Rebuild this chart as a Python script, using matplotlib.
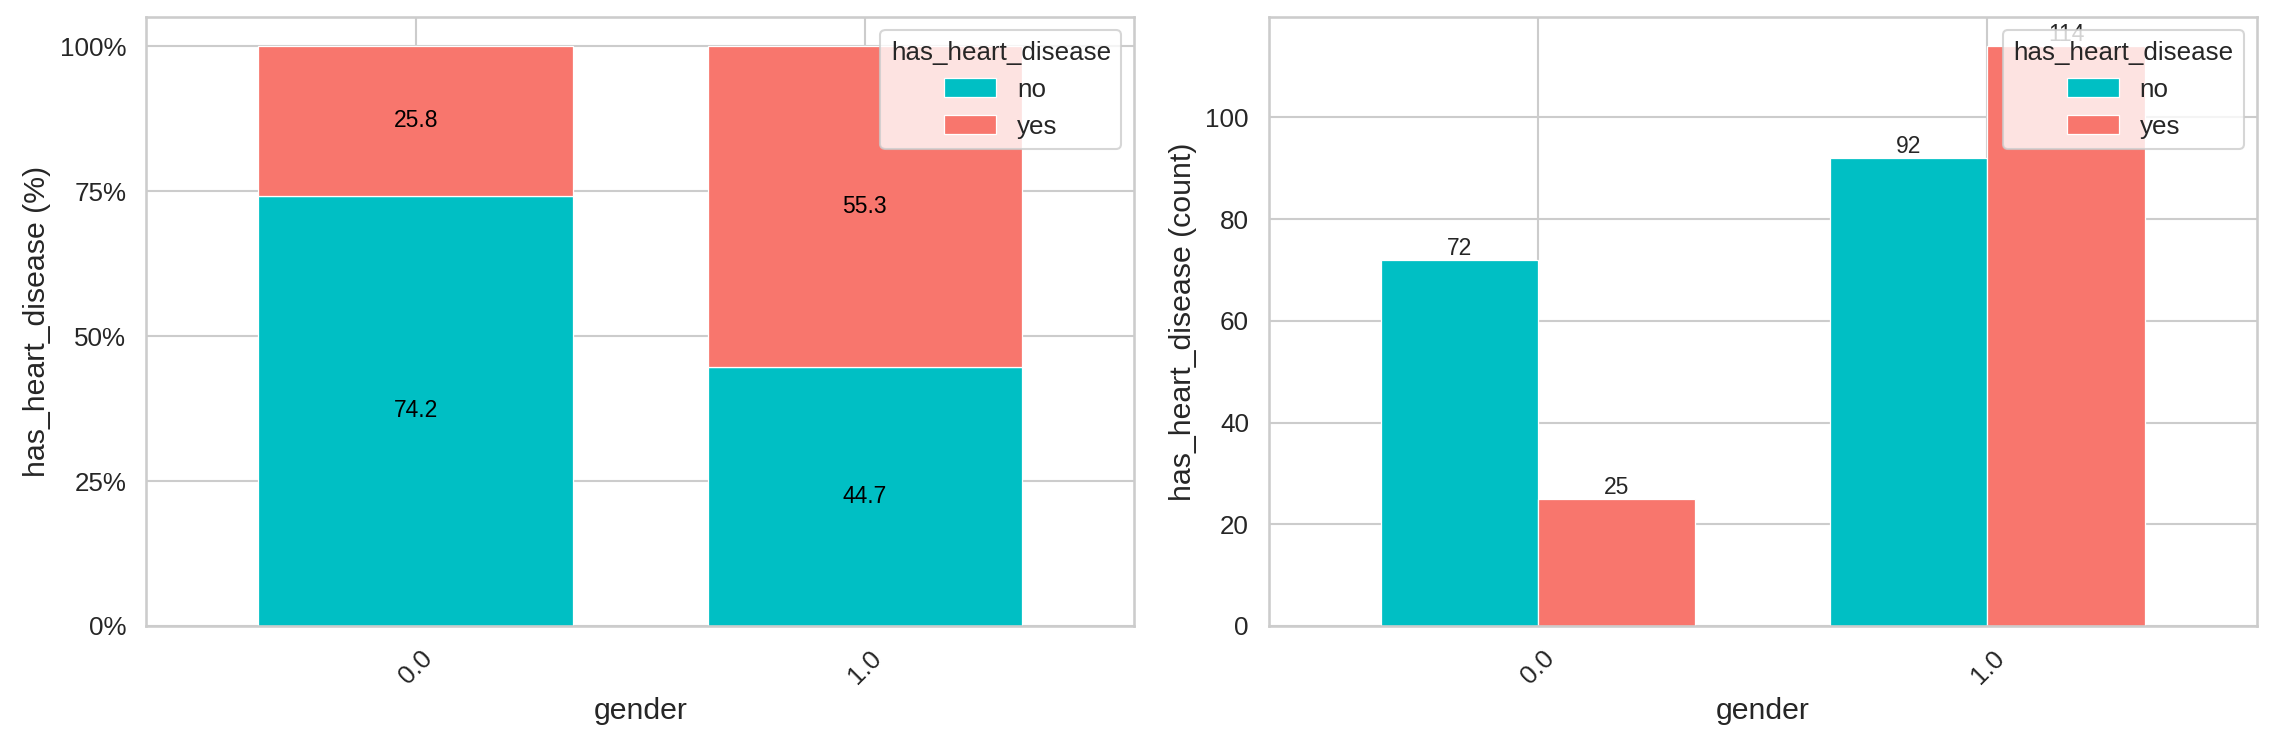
import matplotlib
matplotlib.use("Agg")
import matplotlib.pyplot as plt
import matplotlib.ticker as mtick
import numpy as np
import seaborn as sns

sns.set_theme(style="whitegrid")
plt.rcParams['font.family'] = ['Liberation Sans', 'DejaVu Sans']

genders = ["0.0", "1.0"]
count_no = [72, 92]
count_yes = [25, 114]
pct_no = [74.2, 44.7]
pct_yes = [25.8, 55.3]

c_no = "#00BFC4"
c_yes = "#F8766D"

fig, (ax1, ax2) = plt.subplots(1, 2, figsize=(15.22, 4.98), dpi=150)

x = np.arange(len(genders))

# left: stacked percentages
b1 = ax1.bar(x, np.array(pct_no) / 100, width=0.7, color=c_no, edgecolor="white", linewidth=0.6, label="no")
b2 = ax1.bar(x, np.array(pct_yes) / 100, width=0.7, bottom=np.array(pct_no) / 100, color=c_yes,
             edgecolor="white", linewidth=0.6, label="yes")
ax1.bar_label(b1, labels=[f"{v:.1f}" for v in pct_no], label_type="center", fontsize=11, color="black")
ax1.bar_label(b2, labels=[f"{v:.1f}" for v in pct_yes], label_type="center", fontsize=11, color="black")
ax1.set_xlim(-0.6, 1.6)
ax1.set_ylim(0, 1.05)
ax1.yaxis.set_major_locator(mtick.MultipleLocator(0.25))
ax1.yaxis.set_major_formatter(mtick.PercentFormatter(1.0, decimals=0))
ax1.set_xticks(x)
ax1.set_xticklabels(genders, rotation=45)
ax1.set_xlabel("gender", fontsize=14.5)
ax1.set_ylabel("has_heart_disease (%)", fontsize=14.5)
ax1.tick_params(labelsize=12.5)
ax1.legend(title="has_heart_disease", loc="upper right", fontsize=12.5, title_fontsize=12.5)

# right: grouped counts
w = 0.35
b3 = ax2.bar(x - w / 2, count_no, width=w, color=c_no, edgecolor="white", linewidth=0.6, label="no")
b4 = ax2.bar(x + w / 2, count_yes, width=w, color=c_yes, edgecolor="white", linewidth=0.6, label="yes")
ax2.bar_label(b3, fontsize=11, color="#262626")
ax2.bar_label(b4, fontsize=11, color="#262626")
ax2.set_xlim(-0.6, 1.6)
ax2.set_ylim(0, max(count_yes) * 1.05)
ax2.set_xticks(x)
ax2.set_xticklabels(genders, rotation=45)
ax2.set_xlabel("gender", fontsize=14.5)
ax2.set_ylabel("has_heart_disease (count)", fontsize=14.5)
ax2.tick_params(labelsize=12.5)
ax2.legend(title="has_heart_disease", loc="upper right", fontsize=12.5, title_fontsize=12.5)

plt.subplots_adjust(left=0.064, right=0.9886, wspace=0.136, top=0.977, bottom=0.162)
plt.savefig("out.png", dpi=150)
